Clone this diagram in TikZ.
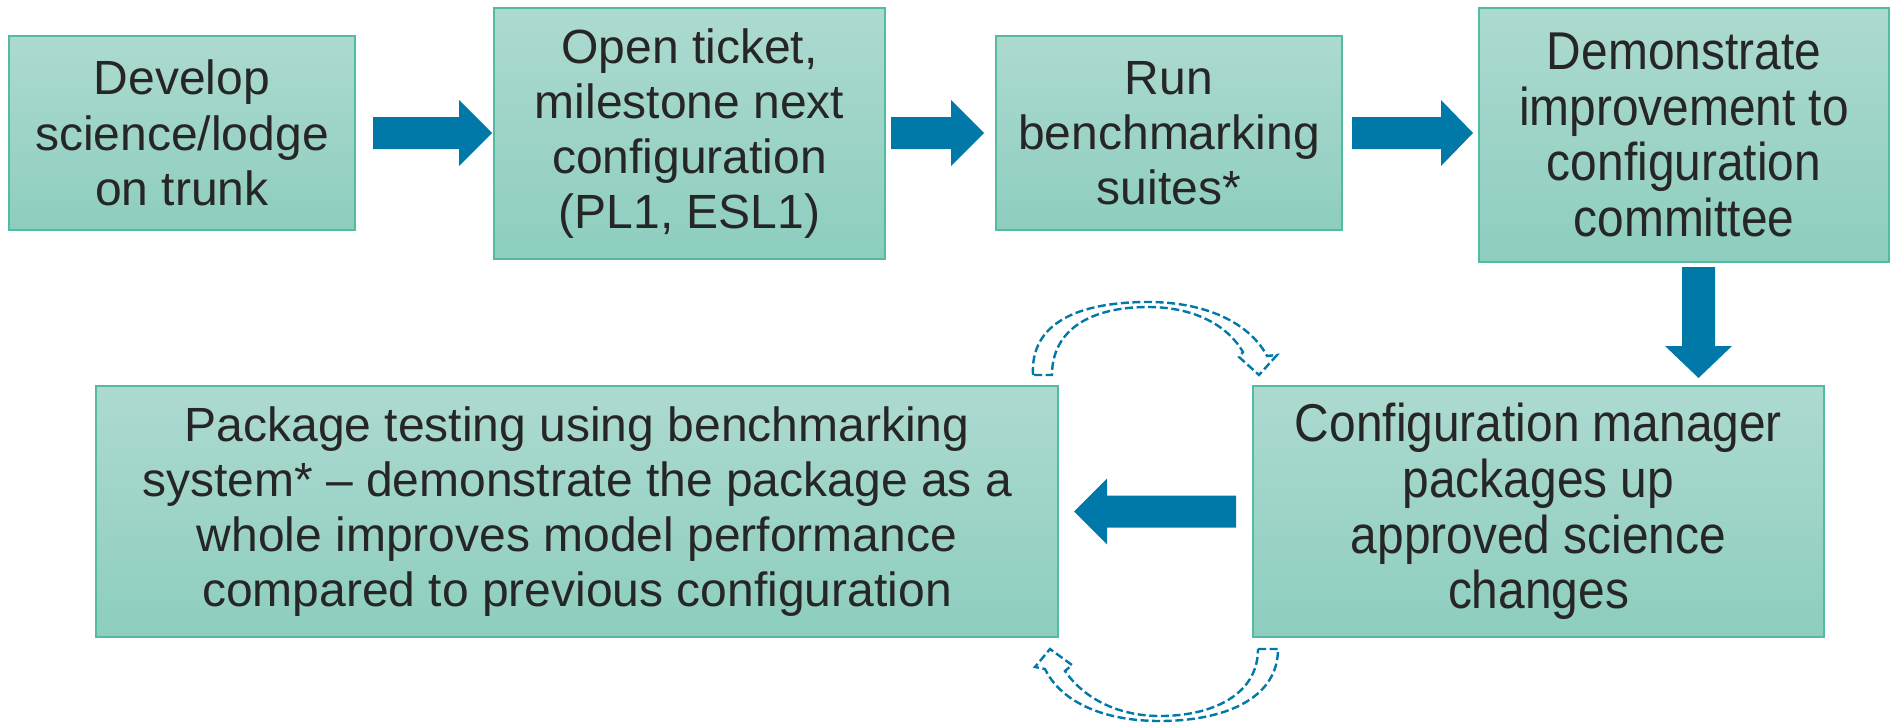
\documentclass[tikz,border=0pt]{standalone}
\usepackage{fontspec}
\setmainfont{Liberation Sans}
\newfontfamily\narrowsans[FakeStretch=0.9]{Liberation Sans}
\definecolor{boxtop}{HTML}{ADDAD0}
\definecolor{boxbot}{HTML}{8DCEBE}
\definecolor{boxline}{HTML}{52BBA2}
\definecolor{arrowblue}{HTML}{0079A8}
\definecolor{txt}{HTML}{262626}
\newcommand\harrowshape[4]{% tail x, head base x, tip x, centre y
  \fill[blockarrow] (#1,#4-16) -- (#2,#4-16) -- (#2,#4-33) -- (#3,#4) -- (#2,#4+33) -- (#2,#4+16) -- (#1,#4+16) -- cycle;}
\newcommand\varrowshape[4]{% tail y, head base y, tip y, centre x
  \fill[blockarrow] (#4-16.5,#1) -- (#4-16.5,#2) -- (#4-33.5,#2) -- (#4,#3) -- (#4+33.5,#2) -- (#4+16.5,#2) -- (#4+16.5,#1) -- cycle;}
\begin{document}
\begin{tikzpicture}[x=0.5pt,y=-0.5pt,
  stepbox/.style={draw=boxline, line width=1pt, top color=boxtop, bottom color=boxbot,
    align=center, text=txt, font=\fontsize{24}{27.6}\selectfont, inner sep=0pt},
  narrowtext/.style={font=\narrowsans\fontsize{26.6}{27.9}\selectfont},
  blockarrow/.style={fill=arrowblue},
  loopdash/.style={draw=arrowblue, line width=1.2pt, dash pattern=on 4pt off 1.8pt, line join=miter, fill=white}]
\useasboundingbox (0,0) rectangle (1890,728);

\node[stepbox, minimum width=173pt, minimum height=97pt] (b1) at (182,133)
  {Develop\\science/lodge\\on trunk};
\node[stepbox, minimum width=195.5pt, minimum height=125.5pt] (b2) at (689.5,133.5)
  {Open ticket,\\milestone next\\configuration\\(PL1, ESL1)};
\node[stepbox, minimum width=173pt, minimum height=97pt] (b3) at (1169,133)
  {Run\\benchmarking\\suites*};
\node[stepbox, narrowtext, minimum width=205pt, minimum height=127pt] (b4) at (1684,135)
  {Demonstrate\\improvement to\\configuration\\committee};
\node[stepbox, narrowtext, minimum width=285.5pt, minimum height=125.5pt] (b5) at (1538.5,511.5)
  {Configuration manager\\packages up\\approved science\\changes};
\node[stepbox, minimum width=481pt, minimum height=125.5pt] (b6) at (577,511.5)
  {Package testing using benchmarking\\system* -- demonstrate the package as a\\whole improves model performance\\compared to previous configuration};

% block arrows
\harrowshape{373}{459}{492}{133}
\harrowshape{891}{951}{984}{133}
\harrowshape{1352}{1441}{1473}{133}
\varrowshape{267}{346}{378}{1698.5}
\harrowshape{1236}{1107}{1074}{511.5}

% dashed curved arrows
\draw[loopdash] (1033,375) .. controls (1030,322) and (1080,302) .. (1148,302)
  .. controls (1212,302) and (1252,327) .. (1267,356)
  -- (1277,355) -- (1259,375) -- (1239,357) -- (1243,352)
  .. controls (1228,326) and (1195,307) .. (1148,307)
  .. controls (1090,307) and (1052,330) .. (1052,375) -- cycle;
\draw[loopdash] (1258,649) -- (1278,649)
  .. controls (1278,700) and (1222,721) .. (1160,721)
  .. controls (1100,721) and (1060,700) .. (1045,669)
  -- (1035,667) -- (1050,649) -- (1072,665) -- (1065,671)
  .. controls (1085,700) and (1120,716) .. (1160,716)
  .. controls (1212,716) and (1258,695) .. (1258,649) -- cycle;
\end{tikzpicture}
\end{document}
